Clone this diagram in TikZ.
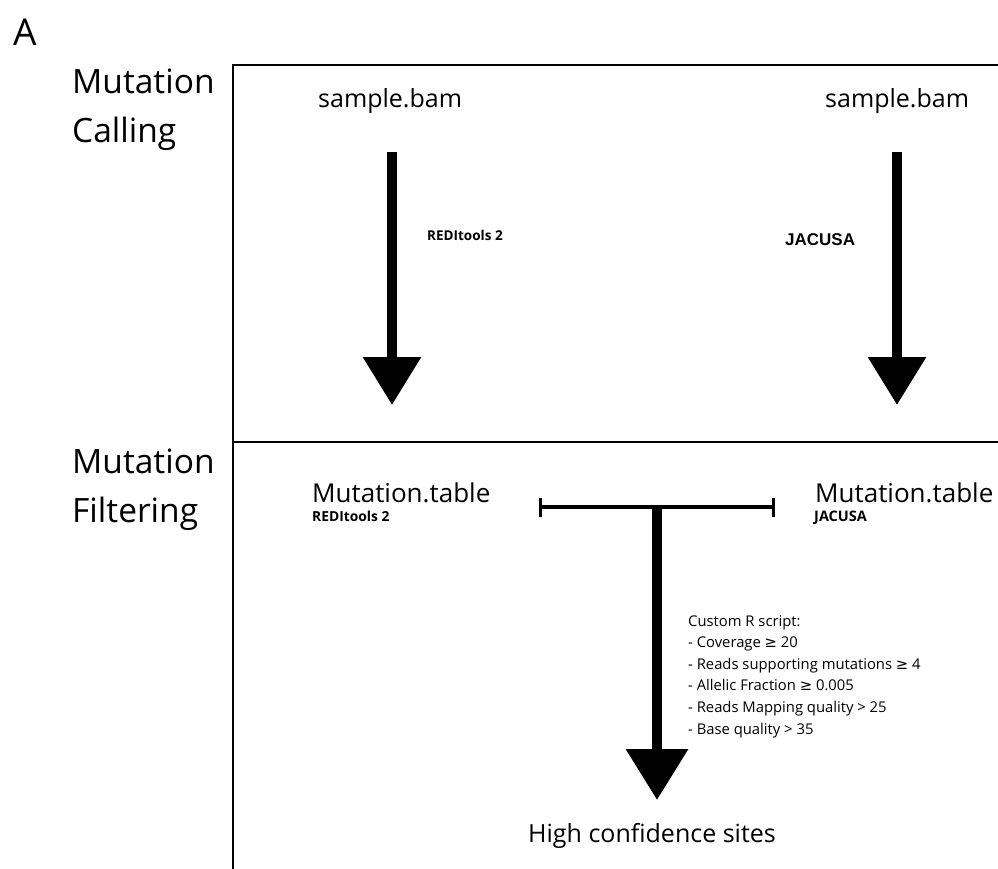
\documentclass[tikz,border=0pt]{standalone}
\usepackage{fontspec}
\setmainfont{Open Sans}
\newfontfamily\symf{DejaVu Sans}
\newfontfamily\arialf{Liberation Sans}
\usetikzlibrary{arrows.meta}
\newcommand{\gq}{{\symf\char"2265}}
\begin{document}
\begin{tikzpicture}[x=1pt,y=-1pt,
  lbl/.style={anchor=base west,inner sep=0pt,font=\fontsize{33.5}{49}\selectfont,align=left},
  file/.style={anchor=base west,inner sep=0pt,font=\fontsize{25}{28}\selectfont},
  tool/.style={anchor=base west,inner sep=0pt,font=\fontsize{13.5}{14}\selectfont\bfseries},
  bigarrow/.style={line width=9.5pt,-{Triangle[width=56pt,length=48pt]}},
  rules/.style={anchor=base west,inner sep=0pt,font=\fontsize{14.8}{21.6}\selectfont,align=left}]
\useasboundingbox (0,0) rectangle (998,868);
% panel letter
\node[anchor=base west,inner sep=0pt,font=\fontsize{37}{40}\selectfont] (A) at (13,45) {A};
% row labels (anchor is on the last line)
\node[lbl] (calling) at (72,142) {Mutation\\Calling};
\node[lbl] (filtering) at (72,522) {Mutation\\Filtering};
% frame
\draw[line width=2pt] (1005,65) -- (233,65) -- (233,875);
\draw[line width=1.5pt] (233,442) -- (1005,442);
% calling row
\node[file] (bamL) at (318,107) {sample.bam};
\node[file] (bamR) at (825,107) {sample.bam};
\coordinate (aLs) at (392,152);
\coordinate (aLe) at (392,405);
\coordinate (aRs) at (897,152);
\coordinate (aRe) at (897,405);
\draw[bigarrow] (aLs) -- (aLe);
\draw[bigarrow] (aRs) -- (aRe);
\node[tool] (redi) at (427,240) {REDItools 2};
\node[anchor=base west,inner sep=0pt,font=\arialf\fontsize{17}{18}\selectfont\bfseries] (jac) at (785,245) {JACUSA};
% filtering row
\node[file,font=\fontsize{26}{28}\selectfont] (mtL) at (312,502) {Mutation.table};
\node[tool,font=\fontsize{13.8}{14}\selectfont\bfseries] (mtLs) at (312,521) {REDItools 2};
\node[file,font=\fontsize{26}{28}\selectfont] (mtR) at (815,502) {Mutation.table};
\node[tool,font=\fontsize{14.5}{14}\selectfont\bfseries] (mtRs) at (814,521) {JACUSA};
\coordinate (tL) at (540,507);
\coordinate (tR) at (773,507);
\coordinate (tM) at (657,507);
\coordinate (tE) at (657,800);
\draw[line width=4pt] (tL) -- (tR);
\draw[line width=3pt] ([yshift=-10pt]tL) -- ([yshift=9pt]tL);
\draw[line width=3pt] ([yshift=-10pt]tR) -- ([yshift=9pt]tR);
\draw[line width=10pt,-{Triangle[width=60pt,length=51pt]}] ([yshift=-2pt]tM) -- (tE);
\node[rules] (rscript) at (688,734) {Custom R script:\\
 - Coverage \gq\ 20\\
 - Reads supporting mutations \gq\ 4\\
 - Allelic Fraction \gq\ 0.005\\
 - Reads Mapping quality > 25\\
 - Base quality > 35};
\node[file] (hc) at (528,842) {High confidence sites};
\end{tikzpicture}
\end{document}
